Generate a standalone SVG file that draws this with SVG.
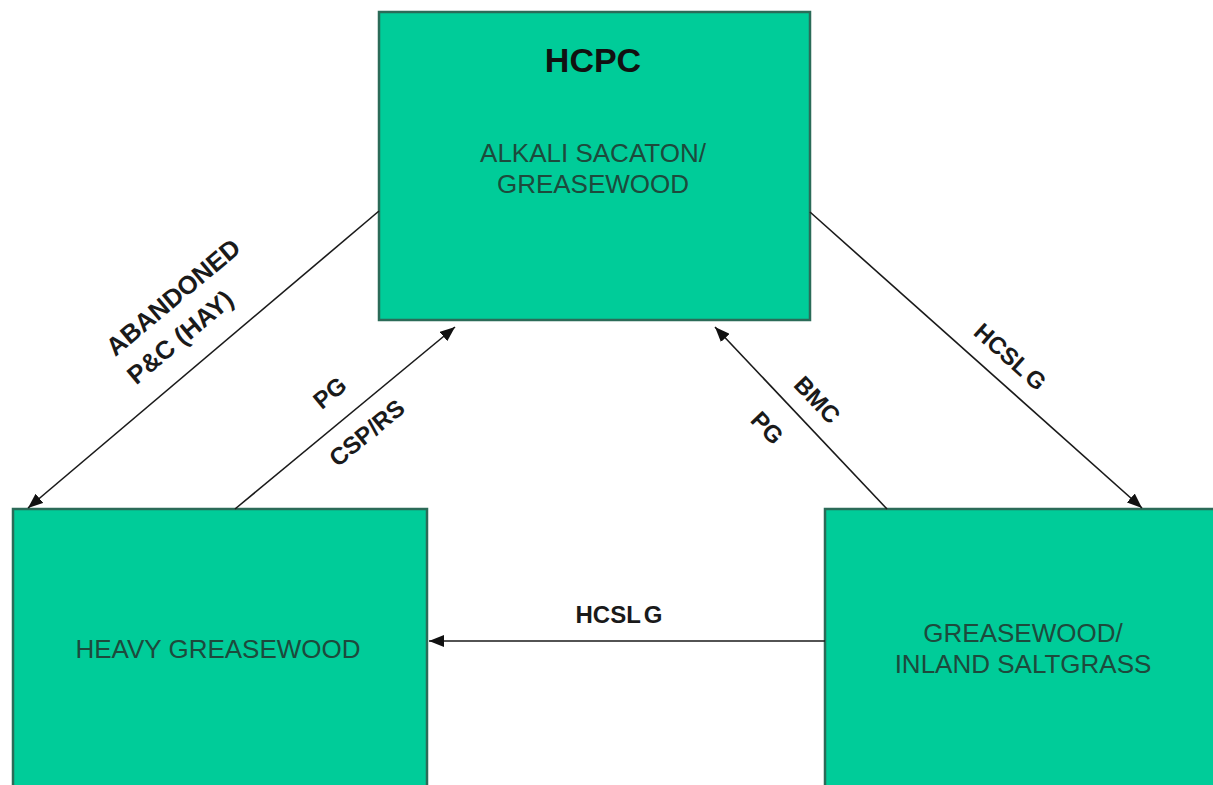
<svg xmlns="http://www.w3.org/2000/svg" width="1213" height="785" viewBox="0 0 1213 785">
<defs>
<marker id="arr" markerUnits="userSpaceOnUse" markerWidth="16" markerHeight="12" refX="15" refY="6" orient="auto">
<path d="M0,0 L15,6 L0,12 z" fill="#111"/>
</marker>
<style>
.box{fill:#00CC99;stroke:#2b6b58;stroke-width:2.5}
.bt{font-family:"Liberation Sans",Arial,sans-serif;font-size:26px;fill:#1d4a3c;text-anchor:middle}
.ttl{font-family:"Liberation Sans",Arial,sans-serif;font-size:34px;font-weight:bold;fill:#111;text-anchor:middle}
.lbl{font-family:"Liberation Sans",Arial,sans-serif;font-size:24px;font-weight:bold;fill:#1a1a1a;text-anchor:middle}
.big{font-size:25.5px}
.ln{stroke:#1a1a1a;stroke-width:1.6;fill:none}
</style>
</defs>
<rect width="1213" height="785" fill="#fff"/>
<g id="hcpc">
<rect class="box" x="379" y="12" width="431" height="308"/>
<text class="ttl" x="593" y="72">HCPC</text>
<text class="bt" x="593" y="162">ALKALI SACATON/</text>
<text class="bt" x="593" y="193">GREASEWOOD</text>
</g>
<g id="heavy">
<rect class="box" x="13" y="509" width="414" height="300"/>
<text class="bt" x="218" y="658">HEAVY GREASEWOOD</text>
</g>
<g id="saltgrass">
<rect class="box" x="825" y="509" width="420" height="300"/>
<text class="bt" x="1023" y="642">GREASEWOOD/</text>
<text class="bt" x="1023" y="673">INLAND SALTGRASS</text>
</g>
<g id="connectors">
<line class="ln" x1="379" y1="211" x2="28" y2="508" marker-end="url(#arr)"/>
<line class="ln" x1="235" y1="509" x2="455" y2="327" marker-end="url(#arr)"/>
<line class="ln" x1="810" y1="212" x2="1142" y2="508" marker-end="url(#arr)"/>
<line class="ln" x1="887" y1="509" x2="715" y2="327" marker-end="url(#arr)"/>
<line class="ln" x1="825" y1="641" x2="429" y2="641" marker-end="url(#arr)"/>
<text class="lbl big" transform="translate(173,297) rotate(-40)" y="9">ABANDONED</text>
<text class="lbl big" transform="translate(180,337) rotate(-40)" y="9">P&amp;C (HAY)</text>
<text class="lbl" transform="translate(330,393) rotate(-39.6)" y="8">PG</text>
<text class="lbl" transform="translate(367,433) rotate(-39.6)" y="8">CSP/RS</text>
<text class="lbl" transform="translate(1010,357) rotate(41.7)" y="8">HCSL<tspan dx="3">G</tspan></text>
<text class="lbl" transform="translate(817,400) rotate(46.6)" y="8">BMC</text>
<text class="lbl" transform="translate(767,428) rotate(46.6)" y="8">PG</text>
<text class="lbl" x="619" y="623">HCSL<tspan dx="3">G</tspan></text>
</g>
</svg>
